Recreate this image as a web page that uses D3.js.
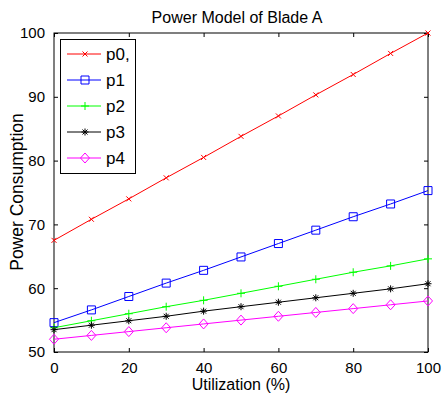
<!DOCTYPE html>
<html><head><meta charset="utf-8">
<script src="https://cdn.jsdelivr.net/npm/d3@7"></script>
<style>body{margin:0;background:#fff}svg{display:block}text{font-family:"Liberation Sans",Arial,sans-serif;fill:#000}</style>
</head><body>
<svg id="c" width="443" height="398"></svg>
<script>
const utilization = [0,10,20,30,40,50,60,70,80,90,100];
const p0 = [67.5,70.8,74.0,77.3,80.5,83.8,87.0,90.3,93.5,96.8,100.0];
const p1 = [54.6,56.6,58.7,60.8,62.8,64.9,67.0,69.1,71.2,73.2,75.3];
const p2 = [53.8,54.9,56.0,57.1,58.1,59.2,60.3,61.4,62.5,63.5,64.6];
const p3 = [53.5,54.2,54.9,55.6,56.4,57.1,57.8,58.5,59.2,59.9,60.7];
const p4 = [52.0,52.6,53.2,53.8,54.4,55.0,55.6,56.2,56.8,57.4,58.0];
const seriesNames = ["p0,","p1","p2","p3","p4"];
const seriesValues = [p0,p1,p2,p3,p4];
const seriesColors = ["#ff0000","#0000ff","#00ff00","#000000","#ff00ff"];
const seriesMarkers = ["x","square","plus","star","diamond"];
const xTicks = [0,20,40,60,80,100];
const yTicks = [50,60,70,80,90,100];

const svg = d3.select("#c");
const L=54, R=428, T=33, B=352;
const x = d3.scaleLinear().domain([0,100]).range([L,R]);
const y = d3.scaleLinear().domain([50,100]).range([B,T]);

function markerPath(type){
  switch(type){
    case "x": return "M-2.5,-2.5L2.5,2.5M-2.5,2.5L2.5,-2.5";
    case "square": return "M-4,-4H4V4H-4Z";
    case "plus": return "M-4,0H4M0,-4V4";
    case "star": return "M-3.5,0H3.5M0,-3.5V3.5M-2.5,-2.5L2.5,2.5M-2.5,2.5L2.5,-2.5";
    case "diamond": return "M0,-5L4.5,0L0,5L-4.5,0Z";
  }
}

// axes box with inside ticks
const g = svg.append("g");
g.append("rect").attr("x",L).attr("y",T).attr("width",R-L).attr("height",B-T)
  .attr("fill","none").attr("stroke","#000").attr("stroke-width",1);

const axB = d3.axisBottom(x).tickValues(xTicks).tickSizeInner(-4).tickSizeOuter(0).tickPadding(10);
const axT = d3.axisTop(x).tickValues(xTicks).tickSizeInner(-4).tickSizeOuter(0).tickFormat("");
const axLft = d3.axisLeft(y).tickValues(yTicks).tickSizeInner(-4).tickSizeOuter(0).tickPadding(9);
const axRgt = d3.axisRight(y).tickValues(yTicks).tickSizeInner(-4).tickSizeOuter(0).tickFormat("");
function style(sel){ sel.select(".domain").remove(); sel.selectAll("line").attr("stroke","#000");
  sel.selectAll("text").style("font-size","15px").attr("fill","#000"); }
g.append("g").attr("transform",`translate(0,${B})`).call(axB).call(style);
g.append("g").attr("transform",`translate(0,${T})`).call(axT).call(style);
g.append("g").attr("transform",`translate(${L},0)`).call(axLft).call(style);
g.append("g").attr("transform",`translate(${R},0)`).call(axRgt).call(style);

// lines
const line = d3.line().x((d,i)=>x(utilization[i])).y(d=>y(d));
seriesValues.forEach((vals,si)=>{
  const col = seriesColors[si];
  svg.append("path").datum(vals).attr("d",line).attr("fill","none")
    .attr("stroke",col).attr("stroke-width",1);
  svg.append("g").selectAll("path").data(vals).join("path")
    .attr("transform",(d,i)=>`translate(${x(utilization[i])},${y(d)})`)
    .attr("d",markerPath(seriesMarkers[si])).attr("fill","none")
    .attr("stroke",col).attr("stroke-width",1);
});

// legend
const lg = svg.append("g");
lg.append("rect").attr("x",60.5).attr("y",39.5).attr("width",75).attr("height",134)
  .attr("fill","#fff").attr("stroke","#000").attr("stroke-width",1);
seriesNames.forEach((name,si)=>{
  const ly = 54 + si*26;
  const col = seriesColors[si];
  lg.append("line").attr("x1",67).attr("x2",101).attr("y1",ly).attr("y2",ly)
    .attr("stroke",col).attr("stroke-width",1);
  lg.append("path").attr("transform",`translate(85,${ly})`).attr("d",markerPath(seriesMarkers[si]))
    .attr("fill","none").attr("stroke",col).attr("stroke-width",1);
  lg.append("text").attr("x",106).attr("y",ly+6).style("font-size","17px").text(name);
});

// titles
svg.append("text").attr("x",237).attr("y",23).attr("text-anchor","middle")
  .style("font-size","16px").text("Power Model of Blade A");
svg.append("text").attr("x",241).attr("y",390).attr("text-anchor","middle")
  .style("font-size","16px").text("Utilization (%)");
svg.append("text").attr("transform","translate(23,192) rotate(-90)").attr("text-anchor","middle")
  .style("font-size","17.5px").text("Power Consumption");
</script>
</body></html>
